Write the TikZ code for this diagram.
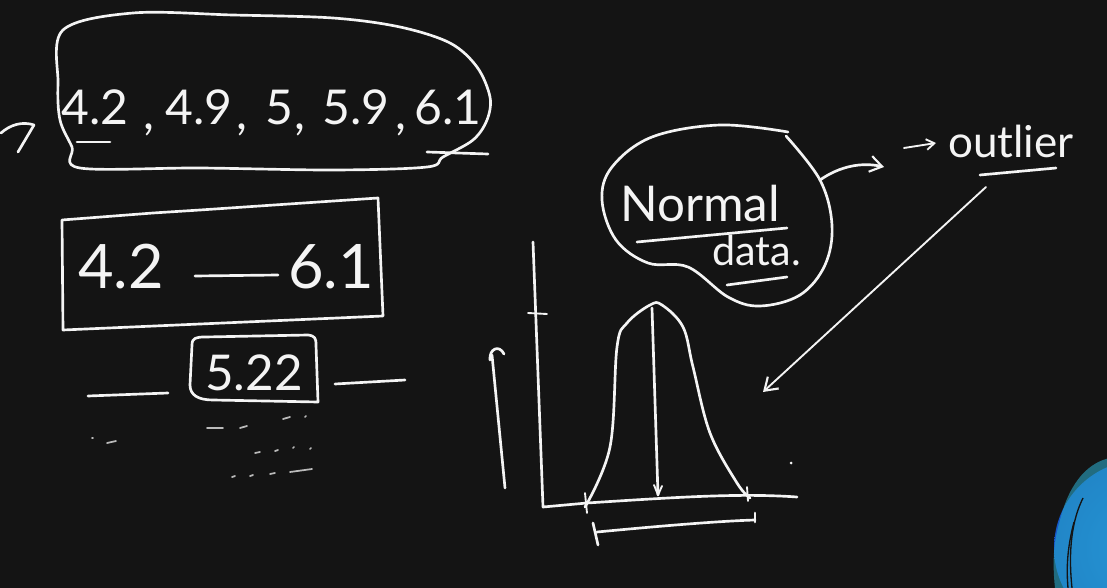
\documentclass[tikz,border=0pt]{standalone}
\usepackage{fontspec}
\setmainfont{Lato}
\usetikzlibrary{arrows.meta}
\definecolor{bg}{HTML}{141414}
\definecolor{ink}{HTML}{F4F4F4}
\definecolor{blobA}{HTML}{1E7BEA}
\definecolor{blobB}{HTML}{1556C8}
\definecolor{blobC}{HTML}{2AA7C8}
\begin{document}
\begin{tikzpicture}[x=0.75pt,y=-0.75pt,
  hand/.style={draw=ink, line width=2pt, line cap=round, line join=round},
  thin/.style={draw=ink, line width=1.4pt, line cap=round, line join=round},
  faint/.style={draw=ink, line width=1.3pt, line cap=round, opacity=0.75},
  tip/.style={-{Straight Barb[length=9pt,width=12pt,line width=1.6pt]}},
  big/.style={text=ink, inner sep=0pt, anchor=base, font=\fontsize{36}{36}\selectfont},
  comma/.style={text=ink, inner sep=0pt, anchor=base west, font=\fontsize{36}{36}\selectfont},
  huge/.style={text=ink, inner sep=0pt, anchor=base, font=\fontsize{46}{46}\selectfont},
  mid/.style={text=ink, inner sep=0pt, anchor=base, font=\fontsize{37}{37}\selectfont},
  word/.style={text=ink, inner sep=0pt, anchor=base west}
]
\fill[bg] (0,0) rectangle (1107,588);
\useasboundingbox (0,0) rectangle (1107,588);

% blue blob at bottom right
\begin{scope}
\clip (0,0) rectangle (1107,588);
\shade[inner color=blobA, outer color=blobB] (1142,548) circle (88);
\fill[blobC, opacity=0.6] (1060,520) .. controls (1070,480) and (1090,462) .. (1110,458) -- (1110,588) -- (1055,588) .. controls (1052,560) and (1054,540) .. (1060,520) -- cycle;
\draw[bg, line width=1pt] (1083,498) .. controls (1072,520) and (1068,550) .. (1072,588);
\draw[bg, line width=1pt] (1074,522) .. controls (1068,545) and (1066,565) .. (1068,588);
\draw[bg, line width=0.8pt] (1063,495) -- (1067,488);
\end{scope}

% ---- top blob with data list ----
\draw[hand] plot[smooth cycle, tension=0.55] coordinates {
  (63,30) (133,13) (233,15) (333,18) (400,27) (450,43) (477,67) (490,97)
  (487,120) (473,140) (443,157) (427,167) (333,170) (200,168) (80,168) (72,147) (60,120) (58,83)};
\node[big] (v1) at (95,125) {4.2};
\node[comma] (c1) at (143,130) {,};
\node[big] (v2) at (199,125) {4.9};
\node[comma] (c2) at (236,130) {,};
\node[big] (v3) at (279,125) {5};
\node[comma] (c3) at (294,130) {,};
\node[big] (v4) at (356,125) {5.9};
\node[comma] (c4) at (395,130) {,};
\node[big] (v5) at (448,125) {6.1};
\draw[hand] (77,142) -- (110,142);
\draw[hand] (427,152) -- (488,154);
% incoming arrow at far left
\draw[hand] (1,133) .. controls (10,125) and (22,121) .. (34,125) -- (18,152);

% ---- range box ----
\draw[hand] (62,220) -- (153,213) -- (200,210) -- (378,198) -- (383,316) -- (63,330) -- cycle;
\node[huge] (lo) at (121,288) {4.2};
\draw[hand] (195,276) -- (278,275);
\node[huge] (hi) at (331,288) {6.1};

% ---- mean box ----
\draw[hand] (192,345) .. controls (192,338) and (196,337) .. (205,337) -- (308,335)
  .. controls (315,336) and (316,338) .. (316,345) -- (318,402) -- (213,400)
  .. controls (198,400) and (190,395) .. (190,385) -- cycle;
\node[mid] (mean) at (254,390) {5.22};
\draw[hand] (88,396) -- (168,393);
\draw[hand] (335,384) -- (405,380);

% faint marks
\draw[faint] (92,438) -- (93,438);
\draw[faint] (107,443) -- (116,441);
\draw[faint] (207,428) -- (223,428);
\draw[faint] (240,428) -- (247,426);
\draw[faint] (283,419) -- (290,417);
\draw[faint] (305,417) -- (306,416);
\draw[faint] (255,453) -- (260,452);
\draw[faint] (275,451) -- (278,450);
\draw[faint] (293,448) -- (294,447);
\draw[faint] (310,449) -- (311,448);
\draw[faint] (232,477) -- (235,476);
\draw[faint] (250,476) -- (253,475);
\draw[faint] (270,474) -- (275,473);
\draw[faint] (290,472) -- (312,469);

% ---- normal data blob ----
\draw[hand] plot[smooth, tension=0.6] coordinates {
  (788,132) (720,125) (652,137) (612,167) (602,200) (616,240) (648,263) (688,267)
  (728,297) (760,306) (800,295) (825,265) (832,225) (820,180) (786,136)};
\node[word, font=\fontsize{37}{37}\selectfont] (normal) at (620,222) {Normal};
\draw[hand] (637,242) -- (787,228);
\node[word, font=\fontsize{31}{31}\selectfont] (data) at (712,265) {data.};
\draw[hand] (727,285) -- (787,277);

% arrow from blob towards outlier
\coordinate (aEnd) at (884,167);
\draw[hand, tip] (820,180) .. controls (840,166) and (862,162) .. (aEnd);

% outlier label
\coordinate (sA) at (904,148);
\coordinate (sB) at (936,143);
\draw[thin, -{Straight Barb[length=6pt,width=8pt,line width=1.4pt]}] (sA) -- (sB);
\node[word, font=\fontsize{33}{33}\selectfont] (outl) at (948,158) {outlier};
\draw[hand] (980,175) -- (1056,168);

% long arrow from outlier label to the tail of the curve
\coordinate (oS) at (986,187);
\coordinate (tailPt) at (763,392);
\draw[thin, tip] (oS) -- (tailPt);

% ---- axes and bell curve ----
\coordinate (yTop) at (533,242);
\coordinate (orig) at (543,507);
\coordinate (xEnd) at (797,497);
\draw[hand] (yTop) -- (orig) -- (587,503) .. controls (680,497) and (740,493) .. (xEnd);
\draw[thin] (528,313) -- (547,314);
% up arrow
\draw[hand] (505,488) -- (492,355);
\draw[hand] (490,360) .. controls (489,349) and (499,344) .. (504,354);
% bell
\draw[hand] plot[smooth, tension=0.6] coordinates {
  (585,507) (610,447) (617,347) (627,323) (650,305) (662,305) (683,327)
  (693,367) (710,433) (737,483) (750,498)};
\draw[hand] (652,308) -- (658,495);
\draw[thin] (654,485) -- (658,495) -- (662,486);
\draw[thin] (585,493) -- (587,513);
\draw[thin] (747,487) -- (748,501);
% bracket
\draw[hand] (593,523) -- (598,545);
\draw[hand] (597,532) .. controls (660,526) and (720,521) .. (755,520);
\draw[hand] (755,513) -- (755,522);
% stray dot
\fill[ink] (791,463) circle (1.5);
\end{tikzpicture}
\end{document}
